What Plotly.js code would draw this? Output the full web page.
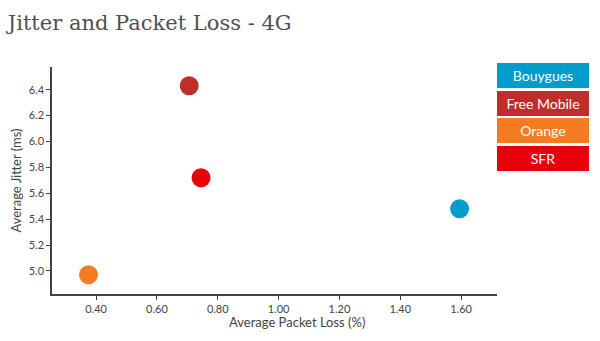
<!DOCTYPE html>
<html><head><meta charset="utf-8">
<script src="https://cdn.plot.ly/plotly-3.0.1.min.js"></script>
<style>html,body{margin:0;padding:0;background:#fff}#c{width:600px;height:341px}</style>
</head><body><div id="c"></div>
<script>
const operators = ["Bouygues", "Free Mobile", "Orange", "SFR"];
const packetLoss = [1.595, 0.706, 0.375, 0.745];
const jitter = [5.48, 6.43, 4.97, 5.72];
const colors = ["#009ccc", "#bf2e2a", "#f47b20", "#e8000b"];
const xTicks = [0.4, 0.6, 0.8, 1.0, 1.2, 1.4, 1.6];
const yTicks = [5.0, 5.2, 5.4, 5.6, 5.8, 6.0, 6.2, 6.4];

const traces = operators.map((op, i) => ({
  type: "scatter", mode: "markers", name: op,
  x: [packetLoss[i]], y: [jitter[i]],
  marker: {size: 19, color: colors[i]},
  showlegend: false
}));

const annotations = operators.map((op, i) => ({
  xref: "paper", yref: "paper", x: 1.0, xanchor: "left",
  y: 1 + (67 - 63 - i * 27.7) / 227, yanchor: "top",
  text: op, showarrow: false, width: 86, height: 19,
  bgcolor: colors[i], bordercolor: colors[i], borderpad: 2,
  font: {family: "Lato, sans-serif", size: 14, color: "#ffffff"},
  align: "center", valign: "middle"
}));
annotations.push({
  xref: "paper", yref: "paper", x: (297 - 52) / 445, xanchor: "center",
  y: -(322 - 294) / 227, yanchor: "middle", showarrow: false,
  text: "Average Packet Loss (%)",
  font: {family: "Lato, sans-serif", size: 13, color: "#444"}
});

const layout = {
  width: 600, height: 341,
  margin: {l: 52, r: 103, t: 67, b: 47},
  paper_bgcolor: "#fff", plot_bgcolor: "#fff",
  title: {text: "Jitter and Packet Loss - 4G", x: 0.013, xanchor: "left", y: 0.935, yanchor: "middle",
    font: {family: "DejaVu Serif, serif", size: 21, color: "#505050"}},
  xaxis: {range: [0.255, 1.718], tickvals: xTicks, ticktext: xTicks.map(v => v.toFixed(2)),
    showgrid: false, zeroline: false, showline: true, linecolor: "#444", linewidth: 1.5,
    ticks: "outside", ticklen: 4, tickcolor: "#444",
    tickfont: {family: "Lato, sans-serif", size: 11, color: "#444"}},
  yaxis: {range: [4.822, 6.575], tickvals: yTicks, ticktext: yTicks.map(v => v.toFixed(1)),
    showgrid: false, zeroline: false, showline: true, linecolor: "#444", linewidth: 1.5,
    ticks: "outside", ticklen: 4, tickcolor: "#444",
    tickfont: {family: "Lato, sans-serif", size: 11, color: "#444"},
    title: {text: "Average Jitter (ms)", standoff: 4, font: {family: "Lato, sans-serif", size: 13, color: "#444"}}},
  annotations: annotations
};
Plotly.newPlot("c", traces, layout, {displayModeBar: false, responsive: false});
</script></body></html>
